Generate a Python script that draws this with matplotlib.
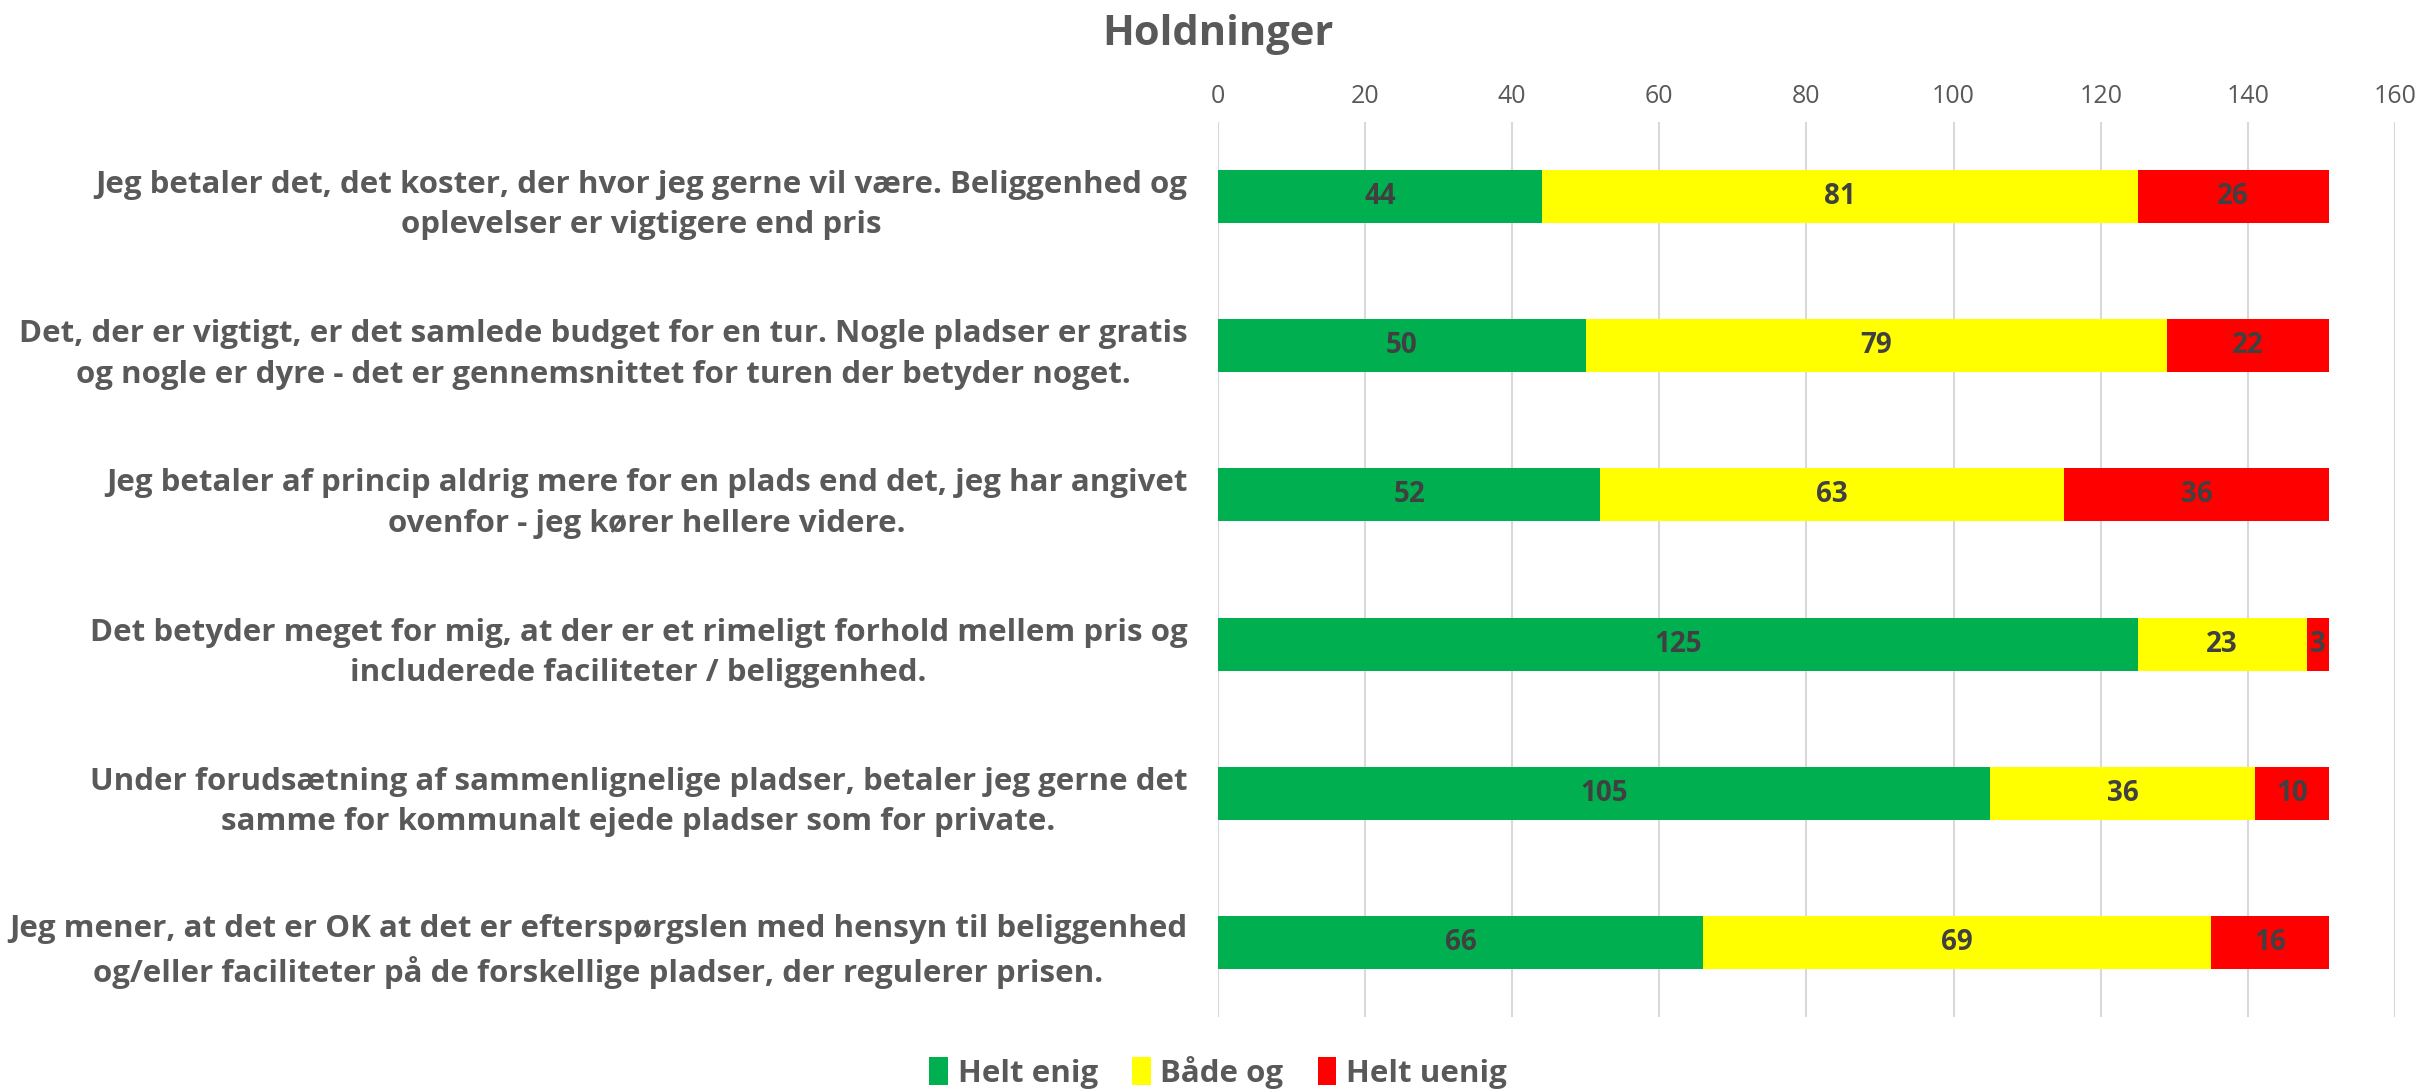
import matplotlib.pyplot as plt
import numpy as np

# ------------------- DATA -------------------
statements = [
    "Jeg betaler det, det koster, der hvor jeg gerne vil være. Beliggenhed og\noplevelser er vigtigere end pris",
    "Det, der er vigtigt, er det samlede budget for en tur. Nogle pladser er gratis\nog nogle er dyre - det er gennemsnittet for turen der betyder noget.",
    "Jeg betaler af princip aldrig mere for en plads end det, jeg har angivet\novenfor - jeg kører hellere videre.",
    "Det betyder meget for mig, at der er et rimeligt forhold mellem pris og\nincluderede faciliteter / beliggenhed.",
    "Under forudsætning af sammenlignelige pladser, betaler jeg gerne det\nsamme for kommunalt ejede pladser som for private.",
    "Jeg mener, at det er OK at det er efterspørgslen med hensyn til beliggenhed\nog/eller faciliteter på de forskellige pladser, der regulerer prisen.",
]
helt_enig = [44, 50, 52, 125, 105, 66]
baade_og = [81, 79, 63, 23, 36, 69]
helt_uenig = [26, 22, 36, 3, 10, 16]
series_names = ["Helt enig", "Både og", "Helt uenig"]
x_ticks = [0, 20, 40, 60, 80, 100, 120, 140, 160]
# --------------------------------------------

colors = ["#00B050", "#FFFF00", "#FF0000"]
text_grey = "#595959"
label_grey = "#404040"

plt.rcParams['font.family'] = ['Open Sans', 'DejaVu Sans']

fig = plt.figure(figsize=(24.18, 10.92), dpi=100)
ax = fig.add_axes([0.5037, 0.0687, 0.4868, 0.8196])

y = np.arange(len(statements))
left = np.zeros(len(statements))
for name, vals, col in zip(series_names, [helt_enig, baade_og, helt_uenig], colors):
    bars = ax.barh(y, vals, left=left, height=0.355, color=col, label=name, zorder=3)
    for b, v in zip(bars, vals):
        ax.text(b.get_x() + b.get_width() / 2, b.get_y() + b.get_height() / 2, str(v),
                ha='center', va='center', fontsize=20, fontweight='bold',
                color=label_grey, zorder=4)
    left += np.array(vals)

ax.set_xlim(0, 160)
ax.set_ylim(len(statements) - 0.5, -0.5)
ax.set_xticks(x_ticks)
ax.xaxis.tick_top()
ax.tick_params(axis='x', length=0, labelsize=18, labelcolor=text_grey, pad=9)
ax.set_yticks(y)
ax.set_yticklabels(statements, fontsize=22.5, fontweight='bold', color=text_grey,
                   multialignment='center', linespacing=1.45)
ax.tick_params(axis='y', length=0, pad=22)
ax.grid(axis='x', color='#d9d9d9', linewidth=1.5, zorder=0)
for s in ax.spines.values():
    s.set_visible(False)

fig.text(0.5037, 0.968, "Holdninger", ha='center', va='center', fontsize=30,
         fontweight='bold', color=text_grey)

fig.legend(loc='center', bbox_to_anchor=(0.5037, 0.018), ncol=3, frameon=False,
           prop={'size': 22.5, 'weight': 'bold'}, labelcolor=text_grey,
           handlelength=0.6, handleheight=1.0, handletextpad=0.3, columnspacing=1.1)

fig.savefig("out.png", dpi=100)
